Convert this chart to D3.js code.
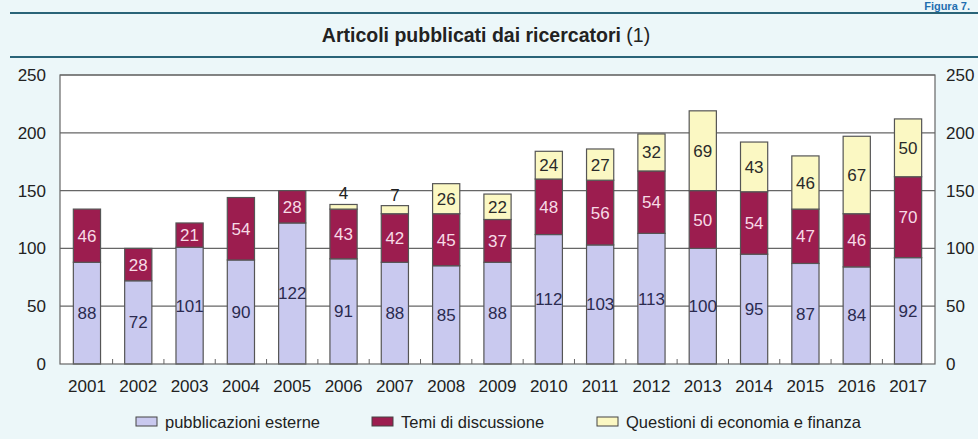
<!DOCTYPE html>
<html><head><meta charset="utf-8">
<script src="https://cdn.jsdelivr.net/npm/d3@7"></script>
<style>
html,body{margin:0;padding:0;background:#ecf7f9;}
svg{display:block;font-family:"Liberation Sans",Arial,sans-serif;}
</style></head>
<body><svg id="c" width="978" height="439"></svg>
<script>
const years = ["2001","2002","2003","2004","2005","2006","2007","2008","2009","2010","2011","2012","2013","2014","2015","2016","2017"];
const esterne = [88,72,101,90,122,91,88,85,88,112,103,113,100,95,87,84,92];
const temi = [46,28,21,54,28,43,42,45,37,48,56,54,50,54,47,46,70];
const questioni = [0,0,0,0,0,4,7,26,22,24,27,32,69,43,46,67,50];
const yTicks = [0,50,100,150,200,250];
const seriesNames = ["pubblicazioni esterne","Temi di discussione","Questioni di economia e finanza"];
const colors = ["#c9c9ef","#9c1d4f","#fbf8c3"];
const labelColors = ["#2b2b4f","#f7dbe6","#2a2a2a"];

const svg = d3.select("#c");
const W = 978, H = 439;
const m = {left:60, right:43, top:75, bottom:75};
const x = d3.scaleBand().domain(years).range([m.left, W - m.right]).paddingInner(0.47).paddingOuter(0.26);
const y = d3.scaleLinear().domain([0,250]).range([364, 75]);

// header
svg.append("text").attr("x", 970).attr("y", 10).attr("text-anchor","end")
  .attr("fill","#1f6fb0").attr("font-weight","bold").attr("font-size",11).text("Figura 7.");
svg.append("line").attr("x1",10).attr("x2",978).attr("y1",13).attr("y2",13).attr("stroke","#2a6478").attr("stroke-width",2);
svg.append("line").attr("x1",10).attr("x2",978).attr("y1",57).attr("y2",57).attr("stroke","#2a6478").attr("stroke-width",2);
const t = svg.append("text").attr("x",486).attr("y",42).attr("text-anchor","middle").attr("font-size",19.5).attr("fill","#222");
t.append("tspan").attr("font-weight","bold").text("Articoli pubblicati dai ricercatori ");
t.append("tspan").text("(1)");

// plot background
svg.append("rect").attr("x",m.left).attr("y",y(250)).attr("width",W-m.right-m.left).attr("height",y(0)-y(250)).attr("fill","#fff");

// gridlines
svg.append("g").selectAll("line").data(yTicks.filter(d=>d>0)).join("line")
  .attr("x1",m.left).attr("x2",W-m.right).attr("y1",d=>y(d)).attr("y2",d=>y(d))
  .attr("stroke","#666").attr("stroke-width",1.2);

// stacked bars
const data = years.map((yr,i)=>({year:yr, esterne:esterne[i], temi:temi[i], questioni:questioni[i]}));
const keys = ["esterne","temi","questioni"];
const stack = d3.stack().keys(keys)(data);
stack.forEach((s,si)=>{
  const g = svg.append("g");
  g.selectAll("rect").data(s.filter(d=>d[1]-d[0]>0)).join("rect")
    .attr("x",d=>x(d.data.year)).attr("width",x.bandwidth())
    .attr("y",d=>y(d[1])).attr("height",d=>y(d[0])-y(d[1]))
    .attr("fill",colors[si]).attr("stroke","#555").attr("stroke-width",1.2);
});
stack.forEach((s,si)=>{
  const g = svg.append("g");
  g.selectAll("text").data(s.filter(d=>d[1]-d[0]>0)).join("text")
    .attr("x",d=>x(d.data.year)+x.bandwidth()/2)
    .attr("y",d=>{const v=d[1]-d[0]; return v<10 ? y(d[1])-5 : y((d[0]+d[1])/2)+6;})
    .attr("text-anchor","middle").attr("font-size",17)
    .attr("fill",d=>(d[1]-d[0])<10 ? "#222" : labelColors[si])
    .text(d=>d[1]-d[0]);
});

// plot border
svg.append("rect").attr("x",m.left).attr("y",y(250)).attr("width",W-m.right-m.left).attr("height",y(0)-y(250))
  .attr("fill","none").attr("stroke","#666").attr("stroke-width",1.2);

// x axis
const xAxis = svg.append("g").attr("transform",`translate(0,${y(0)})`);
xAxis.selectAll("text").data(years).join("text")
  .attr("x",d=>x(d)+x.bandwidth()/2).attr("y",28).attr("text-anchor","middle")
  .attr("font-size",17).attr("fill","#222").text(d=>d);
const step = x.step();
const bounds = years.slice(0,-1).map(d=>x(d)+x.bandwidth()+ (step-x.bandwidth())/2);
xAxis.selectAll("line.tk").data(bounds).join("line").attr("class","tk")
  .attr("x1",d=>d).attr("x2",d=>d).attr("y1",0).attr("y2",-5).attr("stroke","#666");

// y axes
const yl = d3.axisLeft(y).tickValues(yTicks).tickSize(0).tickPadding(14);
const yr = d3.axisRight(y).tickValues(yTicks).tickSize(0).tickPadding(11);
const gl = svg.append("g").attr("transform",`translate(${m.left},0)`).call(yl);
const gr = svg.append("g").attr("transform",`translate(${W-m.right},0)`).call(yr);
[gl,gr].forEach(g=>{
  g.select(".domain").remove();
  g.selectAll("text").attr("font-size",17).attr("fill","#222").attr("font-family","Liberation Sans, Arial, sans-serif");
});

// legend
const legX = [136,372,597];
const leg = svg.append("g");
seriesNames.forEach((n,i)=>{
  leg.append("rect").attr("x",legX[i]).attr("y",417).attr("width",21).attr("height",9)
    .attr("fill",colors[i]).attr("stroke","#444").attr("stroke-width",1);
  leg.append("text").attr("x",legX[i]+29).attr("y",428).attr("font-size",16.5).attr("fill","#222").text(n);
});
</script></body></html>
